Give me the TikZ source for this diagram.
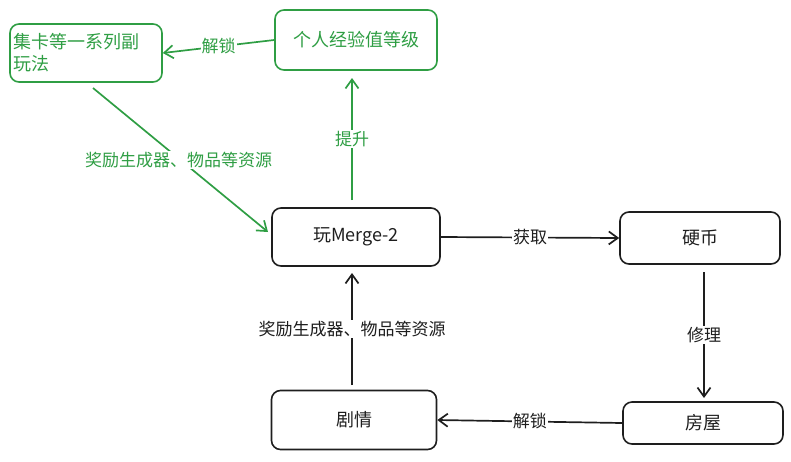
\documentclass[tikz,border=0pt]{standalone}
\usepackage{fontspec}
\setmainfont{Noto Sans CJK SC}
\usetikzlibrary{arrows.meta}
\definecolor{gr}{HTML}{2F9E44}
\definecolor{dk}{HTML}{1E1E1E}
\begin{document}
\begin{tikzpicture}[x=1pt,y=-1pt,
  box/.style={draw=#1,line width=1.6pt,rounded corners=9pt,font=\fontsize{18}{22}\selectfont,text=#1,align=center},
  con/.style={draw=#1,line width=1.7pt,-{Straight Barb[length=9pt,width=13pt]}},
  lab/.style={fill=white,inner sep=1pt,font=\fontsize{17}{20}\selectfont,text=#1}]
\useasboundingbox (0,0) rectangle (791,461);
\node[box=gr,minimum width=152pt,minimum height=58pt,text width=146pt,align=left,inner sep=2pt] (A) at (86,53) {集卡等一系列副\\玩法};
\node[box=gr,minimum width=162pt,minimum height=60pt] (B) at (356,40) {个人经验值等级};
\node[box=dk,minimum width=168pt,minimum height=58pt] (C) at (356,237) {玩Merge-2};
\node[box=dk,minimum width=160pt,minimum height=52pt] (D) at (700,238) {硬币};
\node[box=dk,minimum width=160pt,minimum height=42pt] (E) at (703,423) {房屋};
\node[box=dk,minimum width=165pt,minimum height=59pt] (F) at (354,420) {剧情};
\coordinate (a1) at (93,88); \coordinate (c1) at (268,232);
\draw[con=gr] (B.west) -- node[lab=gr]{解锁} (A.east);
\draw[con=gr] (352,200) -- node[lab=gr]{提升} (352,78);
\draw[con=gr] (a1) -- node[lab=gr,pos=0.5,xshift=-2pt]{奖励生成器、物品等资源} (c1);
\draw[con=dk] (C.east) -- node[lab=dk]{获取} (D.west);
\draw[con=dk] (704,272) -- node[lab=dk]{修理} (704,398);
\draw[con=dk] (E.west) -- node[lab=dk]{解锁} (F.east);
\draw[con=dk] (352,385) -- node[lab=dk,pos=0.5]{奖励生成器、物品等资源} (352,273);
\end{tikzpicture}
\end{document}
